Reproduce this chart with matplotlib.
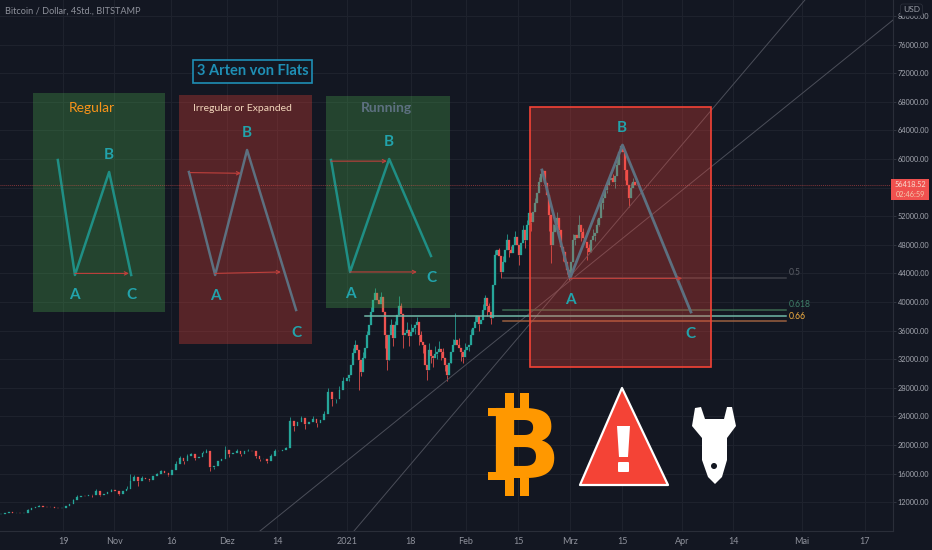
import matplotlib
matplotlib.use('Agg')
import matplotlib.pyplot as plt
import numpy as np
from matplotlib.patches import Rectangle, Polygon, Circle, FancyBboxPatch
from matplotlib.transforms import Affine2D

plt.rcParams['font.family'] = ['Lato', 'DejaVu Sans']

# Daily closes from 2 Oct to 31 Dec 2020
early_close = [
    10320, 10450, 10560, 10510, 10520, 10430, 10500, 10950, 11200, 11300,
    11450, 11360, 11300, 11260, 11240, 11230, 11250, 11400, 11700, 12300,
    12750, 12900, 12830, 13000, 12950, 13600, 13050, 13200, 13450, 13700,
    13620, 13200, 13500, 13900, 15000, 15500, 14900, 15350, 15300, 15150,
    15600, 15900, 16300, 16050, 15800, 16500, 17300, 18200, 17700, 18400,
    18750, 18200, 18300, 18900, 19100, 16900, 17000, 17700, 18100, 19300,
    18700, 18950, 19200, 18750, 19100, 19200, 19100, 18500, 18050, 18100,
    17700, 18500, 19200, 19100, 19250, 19600, 23400, 22700, 23200, 23800,
    22900, 23200, 23700, 23100, 23500, 24300, 27400, 26400, 26500, 27700,
    28900]

# Closes from 1 Jan 2021, one candle for every 2 chart pixels
late_close = [
    29370, 29800, 31190, 32870, 33985, 33290, 31890, 30210, 32170, 33570,
    35390, 36780, 38600, 40280, 41260, 40280, 39720, 40700, 38600, 35390,
    31890, 35390, 36780, 34970, 36780, 38180, 39440, 38320, 35390, 35670,
    36085, 35245, 35805, 36365, 36780, 37200, 35390, 34405, 33985, 31190,
    30490, 33290, 32447, 32170, 32727, 33000, 33430, 33000, 32170, 31190,
    29790, 31470, 33000, 33985, 34685, 33985, 33570, 32960, 32300, 33290,
    33710, 33985, 35390, 36365, 37200, 38040, 36920, 37480, 38880, 40560,
    39440, 38600, 37760, 42380, 46580, 47270, 46435, 44195, 45595, 47270,
    48670, 47270, 46850, 47970, 49090, 47970, 46580, 48250, 50070, 48670,
    50770, 52450, 51190, 52590, 53850, 55250, 56780, 57900, 58320, 56640,
    54970, 52170, 47970, 49790, 50770, 51750, 50070, 47690, 46990, 45595,
    44475, 43500, 45595, 48670, 49370, 48950, 50770, 49790, 48950, 48390,
    47550, 46990, 48670, 49230, 49650, 50770, 51750, 53810, 54550, 55670,
    56360, 57060, 57340, 56780, 57620, 59160, 60980, 61820, 60980, 58460,
    56360, 54550, 55940, 56780, 56418]

# Wicks: candle index -> price
early_highs = {7: 11050, 10: 11600, 19: 12500, 20: 13000, 25: 13900, 29: 13900, 33: 14200, 34: 15950, 35: 15800,
               37: 15700, 41: 16100, 42: 16500, 46: 17700, 47: 18500, 49: 18800, 50: 18950, 53: 19200, 54: 19500,
               59: 19800, 62: 19450, 65: 19400, 71: 18800, 72: 19400, 75: 19750, 76: 23900, 79: 24100, 82: 24000,
               85: 24700, 86: 28000, 89: 28200, 90: 29500}
early_lows = {8: 10900, 24: 12750, 26: 12900, 31: 13000, 36: 14300, 39: 14900, 44: 15600, 48: 17300, 51: 17900,
              55: 16350, 56: 16700, 60: 18300, 63: 18400, 67: 18200, 68: 17800, 70: 17500, 77: 21900, 80: 22300,
              83: 22500, 87: 25500, 88: 25900}
late_highs = {3: 33500, 4: 34700, 8: 33000, 10: 36000, 12: 39300, 14: 41900, 15: 41000, 17: 41400, 18: 40000,
              22: 37600, 24: 37400, 26: 40800, 27: 39800, 30: 37200, 32: 36900, 35: 37900, 37: 36000, 41: 34300,
              44: 33900, 46: 34600, 48: 33500, 53: 34800, 54: 38460, 56: 35000, 59: 34300, 62: 36200, 64: 38000,
              66: 38100, 68: 39700, 69: 41000, 71: 39900, 74: 47300, 76: 47600, 78: 46500, 80: 49500, 82: 47900,
              84: 50000, 86: 47900, 88: 50800, 90: 51500, 92: 52300, 94: 54500, 96: 57500, 97: 58460, 99: 57800,
              100: 56200, 103: 50900, 105: 52600, 107: 49200, 109: 46800, 113: 49500, 116: 52170, 118: 50300,
              121: 48100, 123: 50200, 125: 51600, 127: 54400, 129: 56400, 131: 57800, 133: 57900, 135: 59800,
              137: 62000, 138: 61800, 140: 58000, 142: 56700, 143: 57400}
late_lows = {1: 29000, 6: 27693, 7: 29600, 9: 32300, 19: 33500, 20: 30490, 21: 33000, 23: 33900, 28: 33500,
             31: 33800, 34: 35500, 36: 34000, 38: 32800, 40: 29090, 42: 31400, 43: 30900, 45: 32000, 47: 31900,
             49: 30400, 50: 28900, 52: 32000, 57: 31800, 58: 31400, 61: 33100, 63: 35400, 66: 36000, 70: 38000,
             72: 36900, 77: 43400, 79: 45900, 81: 46300, 83: 46800, 86: 45200, 89: 47600, 92: 50000, 95: 53900,
             101: 50000, 102: 45455, 106: 48600, 108: 45700, 110: 43900, 111: 43100, 114: 48000, 117: 48500,
             120: 45900, 122: 47200, 124: 48500, 126: 50600, 128: 53000, 130: 55300, 134: 56000, 139: 57000,
             141: 53290, 142: 54600}

# Axis ticks, the 56000 label is hidden behind the last price tag
price_ticks = list(range(12000, 84000, 4000))
price_labels = ['' if p == 56000 else '%.2f' % p for p in price_ticks]
date_ticks = [-74.7, -61.3, -46.3, -31.6, -18.4, 0, 16.8, 31.3, 45, 58.7, 72.4, 88.2, 101.6, 119.7, 136.3]
date_labels = ['19', 'Nov', '16', 'Dez', '14', '2021', '18', 'Feb', '15', 'Mrz', '15', 'Apr', '14', 'Mai', '17']

last_price = 56418.52

# Drawings on the chart, in days since 1 Jan 2021 and in price
boxes = [
    (-82.6, -47.9, 38601, 69231, '#4caf50'),
    (-44.2, -9.2, 34126, 68951, '#f44336'),
    (-5.5, 27.1, 39161, 68811, '#4caf50'),
]
regular_days = [-76.1, -71.6, -62.6, -56.8]
regular_prices = [59860, 43776, 58182, 43776]
irregular_days = [-41.6, -34.7, -26.3, -13.4]
irregular_prices = [58182, 43776, 61259, 38881]
running_days = [-4.2, 0.8, 11.1, 22.1]
running_prices = [59860, 44196, 60000, 46434]
forecast_days = [51.3, 58.7, 72.5, 90.5]
forecast_prices = [58462, 43357, 61958, 38601]
arrows = [
    (-71.6, 44000, -57.4, 44000),
    (-41.3, 58100, -27.9, 58000),
    (-34.7, 44000, -17.4, 44200),
    (-4.2, 59700, 10.5, 59700),
    (0.8, 44200, 18.4, 44200),
    (58.7, 43300, 88.2, 43300),
]
wave_letters = [
    ('A', -71.8, 40980), ('B', -62.6, 60560), ('C', -56.8, 40980),
    ('A', -34.7, 40840), ('B', -26.3, 63640), ('C', -13.4, 35670),
    ('A', 0.8, 41120), ('B', 11.1, 62380), ('C', 22.1, 43360),
    ('A', 58.7, 40280), ('B', 72.4, 64340), ('C', 90.5, 35520),
]
trend_lines = [(-22.9, 7972, 143.7, 79440), (1.84, 7972, 120.5, 82238)]
fib_levels = [('0.5', 43357, '#3c3f47', '#5a5d65'), ('0.618', 38881, '#3c6a50', '#3f7f68'), ('0.66', 37342, '#9a5f40', '#f5b041')]

BG = '#131722'
GRID = '#1e222d'
TEAL = '#26a69a'
RED = '#ef5350'
SLATE = '#5d7080'

fig = plt.figure(figsize=(9.32, 5.5), dpi=100, facecolor=BG)
ax = fig.add_axes([0, 19 / 550, 893 / 932, 531 / 550], facecolor=BG)
ax.set_xlim(-347 / 3.8, 546 / 3.8)
ax.set_ylim(7972, 82238)

# Candles: each one opens where the one before closed
early_x = np.arange(-91, 0)
late_x = np.arange(len(late_close)) * (2 / 3.8)


def draw_candles(days, closes, first_open, highs, lows, width):
    closes = np.array(closes, dtype=float)
    opens = np.r_[first_open, closes[:-1]]
    colors = [TEAL if c >= o else RED for o, c in zip(opens, closes)]
    ax.bar(days, closes - opens, bottom=opens, width=width, color=colors, linewidth=0.2, edgecolor=colors, zorder=3)
    for i, high in highs.items():
        ax.vlines(days[i], max(opens[i], closes[i]), high, color=colors[i], lw=0.65, alpha=0.85, zorder=3)
    for i, low in lows.items():
        ax.vlines(days[i], low, min(opens[i], closes[i]), color=colors[i], lw=0.65, alpha=0.85, zorder=3)


draw_candles(early_x, early_close, 10300, early_highs, early_lows, 0.42)
draw_candles(late_x, late_close, early_close[-1], late_highs, late_lows, 0.34)

# Grid and axes
ax.set_yticks(price_ticks)
ax.set_yticklabels(price_labels)
ax.set_xticks(date_ticks)
ax.set_xticklabels(date_labels)
ax.grid(True, color=GRID, lw=0.8, zorder=0)
ax.set_axisbelow(True)
ax.yaxis.tick_right()
ax.tick_params(axis='y', colors='#a3a6af', labelsize=5.3, length=2, width=0.6, pad=1.5, color='#363a45')
ax.tick_params(axis='x', colors='#8f929c', labelsize=6.5, length=0, pad=4)
for side in ['top', 'left']:
    ax.spines[side].set_visible(False)
for side in ['right', 'bottom']:
    ax.spines[side].set_color('#2a2e39')
    ax.spines[side].set_linewidth(0.8)

# Trend lines and the last price line
for x0, y0, x1, y1 in trend_lines:
    ax.plot([x0, x1], [y0, y1], color='#4b4e59', lw=0.7, zorder=4)
ax.axhline(last_price, color=RED, lw=0.7, ls=(0, (1, 1)), alpha=0.5, zorder=7)

# Fib levels with the line that marks the old resistance
for label, level, line_color, text_color in fib_levels:
    ax.plot([41.05, 115.5], [level, level], color=line_color, lw=1.1, zorder=4)
    ax.text(116.2, level + 700, label, color=text_color, fontsize=6.2, va='center', zorder=8)
ax.plot([4.7, 115.5], [38041, 38041], color='#70b8a8', lw=1.1, zorder=4)

# Boxes with the three flat types
for x0, x1, y0, y1, color in boxes:
    ax.add_patch(Rectangle((x0, y0), x1 - x0, y1 - y0, facecolor=color, edgecolor='none', alpha=0.3, zorder=5))
ax.add_patch(Rectangle((48.2, 30910), 47.6, 36363, facecolor='#f44336', edgecolor='none', alpha=0.3, zorder=5))
ax.add_patch(Rectangle((48.2, 30910), 47.6, 36363, fill=False, edgecolor='#f44336', lw=1.2, zorder=7))
ax.add_patch(Rectangle((-40.5, 70629), 31.3, 3217, facecolor=BG, edgecolor='#1f8fb5', lw=1.2, zorder=7))

ax.plot(regular_days, regular_prices, color='#1f8f85', lw=1.8, zorder=6)
ax.plot(irregular_days, irregular_prices, color=SLATE, lw=1.8, zorder=6)
ax.plot(running_days, running_prices, color='#1f8f85', lw=1.8, zorder=6)
ax.plot(forecast_days, forecast_prices, color=SLATE, lw=2, zorder=6)

for x0, y0, x1, y1 in arrows:
    ax.annotate('', xy=(x1, y1), xytext=(x0, y0), zorder=7,
                arrowprops=dict(arrowstyle='->', color='#c0403c', lw=0.8, mutation_scale=6,
                                shrinkA=0, shrinkB=0))

for letter, x, y in wave_letters:
    ax.text(x, y, letter, color='#22a3ab', fontsize=11, fontweight='bold', ha='center', va='center', zorder=8)

ax.text(-24.8, 72240, '3 Arten von Flats', color='#1f8fb5', fontsize=10.5, fontweight='bold', ha='center', va='center', zorder=8)
ax.text(-67.1, 67133, 'Regular', color='#f7931a', fontsize=10, ha='center', va='center', zorder=8)
ax.text(-27.4, 67133, 'Irregular or Expanded', color='#f3d6bb', fontsize=7.5, ha='center', va='center', zorder=8)
ax.text(10.3, 67133, 'Running', color=SLATE, fontsize=10, fontweight='bold', ha='center', va='center', zorder=8)

# Everything below sits on top of the chart, in pixels of the picture
px = Affine2D().scale(1, -1).translate(0, 550)

fig.text(5, 11, 'Bitcoin / Dollar, 4Std., BITSTAMP', transform=px, color='#8f929c', fontsize=6.6, va='center')

# Last price tag
fig.add_artist(Rectangle((891, 179), 38, 21, transform=px, facecolor='#f0514f', edgecolor='none', zorder=10))
fig.text(910, 184.5, '56418.52', transform=px, color='#f6dcd0', fontsize=5.3, ha='center', va='center', zorder=11)
fig.text(910, 194.5, '02:46:59', transform=px, color='#f3c9ae', fontsize=5.3, ha='center', va='center', zorder=11)
fig.text(911.5, 10, 'USD', transform=px, color='#9a9da7', fontsize=6, ha='center', va='center', zorder=11,
         bbox=dict(boxstyle='round,pad=0.3', facecolor=BG, edgecolor='#2a2e39', lw=0.6))

# Bitcoin sign
ORANGE = '#ff9800'
for bar_x in (505, 520):
    for bar_top in (393, 478):
        fig.add_artist(Rectangle((bar_x, bar_top), 9, 18, transform=px, facecolor=ORANGE, edgecolor='none', zorder=10))
fig.add_artist(Rectangle((488, 408), 20, 8, transform=px, facecolor=ORANGE, edgecolor='none', zorder=11))
fig.add_artist(Rectangle((488, 472), 20, 8, transform=px, facecolor=ORANGE, edgecolor='none', zorder=11))
fig.text(523, 452, 'B', transform=px, color=ORANGE, fontsize=70, fontweight='bold', family='DejaVu Sans',
         ha='center', va='center', zorder=12)

# Warning sign
fig.add_artist(Polygon([(622, 388), (580, 485), (668, 485)], closed=True, transform=px,
                       facecolor='#f44336', edgecolor='white', lw=1.6, joinstyle='round', zorder=10))
fig.add_artist(Polygon([(617, 426), (630, 426), (628, 457), (619, 457)], closed=True, transform=px,
                       facecolor='white', edgecolor='none', zorder=11))
fig.add_artist(FancyBboxPatch((619, 463), 9, 8, boxstyle='round,pad=1', transform=px,
                              facecolor='white', edgecolor='none', zorder=11))

# Bomb
bomb_outline = [(695, 408), (701, 407), (705, 419), (724, 419), (727, 407), (732, 407), (736, 426),
                (727, 438), (727, 460), (722, 477), (715, 484), (708, 477), (702, 460), (702, 438), (692, 426)]
fig.add_artist(Polygon(bomb_outline, closed=True, transform=px, facecolor='white', edgecolor='none', zorder=10))
fig.add_artist(Circle((714, 466), 3, transform=px, facecolor=BG, edgecolor='none', zorder=11))

fig.savefig('out.png', dpi=100, facecolor=BG)
